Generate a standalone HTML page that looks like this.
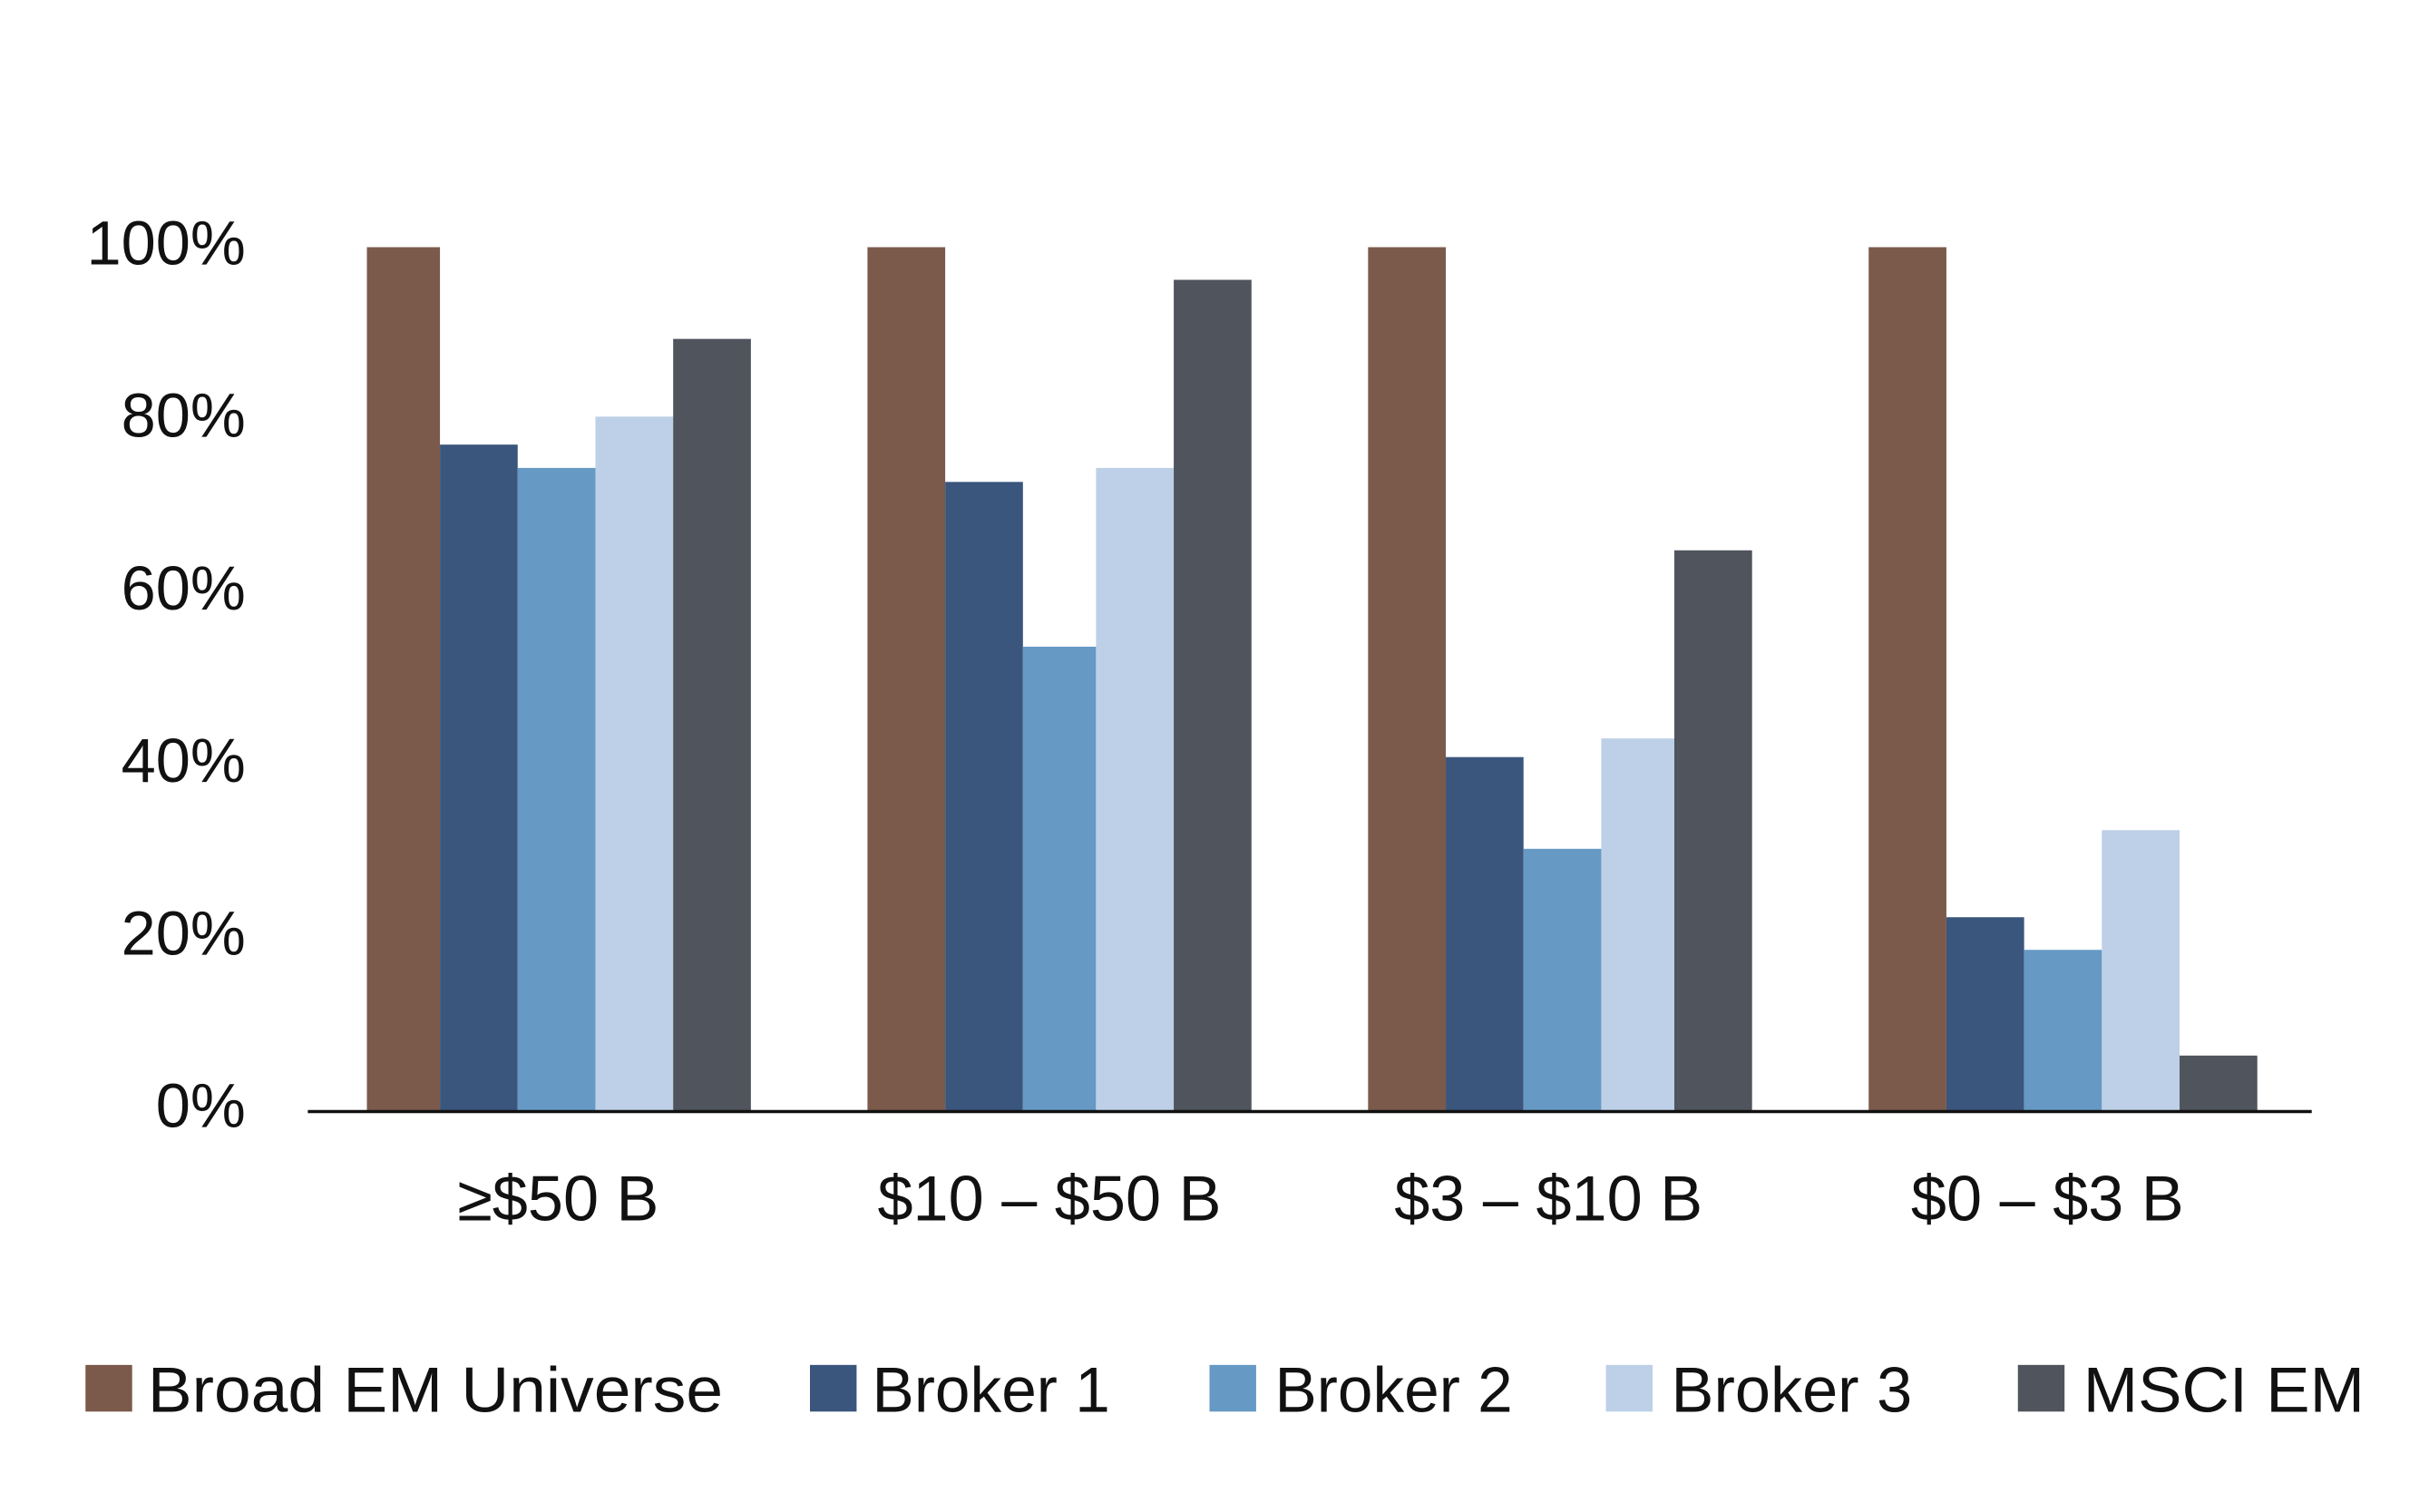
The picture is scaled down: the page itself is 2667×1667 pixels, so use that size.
<!DOCTYPE html>
<html><head><meta charset="utf-8"><style>
html,body{margin:0;padding:0;background:#fff;}
svg{display:block;}
text{font-family:"Liberation Sans",sans-serif;fill:#111;}
</style></head><body>
<svg width="2667" height="1667" viewBox="0 0 1556 972.6" preserveAspectRatio="none" xmlns="http://www.w3.org/2000/svg">
<g font-size="40" text-anchor="end">
<text x="158" y="170">100%</text>
<text x="158" y="281">80%</text>
<text x="158" y="392">60%</text>
<text x="158" y="503">40%</text>
<text x="158" y="614">20%</text>
<text x="158" y="725">0%</text>
</g>
<g>
<rect x="236" y="159" width="47" height="556" fill="#7B5A4C"/>
<rect x="283" y="286" width="50" height="429" fill="#3B567D"/>
<rect x="333" y="301" width="50" height="414" fill="#6699C4"/>
<rect x="383" y="268" width="50" height="447" fill="#BDD0E7"/>
<rect x="433" y="218" width="50" height="497" fill="#4F545D"/>

<rect x="558" y="159" width="50" height="556" fill="#7B5A4C"/>
<rect x="608" y="310" width="50" height="405" fill="#3B567D"/>
<rect x="658" y="416" width="47" height="299" fill="#6699C4"/>
<rect x="705" y="301" width="50" height="414" fill="#BDD0E7"/>
<rect x="755" y="180" width="50" height="535" fill="#4F545D"/>

<rect x="880" y="159" width="50" height="556" fill="#7B5A4C"/>
<rect x="930" y="487" width="50" height="228" fill="#3B567D"/>
<rect x="980" y="546" width="50" height="169" fill="#6699C4"/>
<rect x="1030" y="475" width="47" height="240" fill="#BDD0E7"/>
<rect x="1077" y="354" width="50" height="361" fill="#4F545D"/>

<rect x="1202" y="159" width="50" height="556" fill="#7B5A4C"/>
<rect x="1252" y="590" width="50" height="125" fill="#3B567D"/>
<rect x="1302" y="611" width="50" height="104" fill="#6699C4"/>
<rect x="1352" y="534" width="50" height="181" fill="#BDD0E7"/>
<rect x="1402" y="679" width="50" height="36" fill="#4F545D"/>
</g>
<line x1="198" y1="715" x2="1487" y2="715" stroke="#111" stroke-width="2"/>
<g font-size="41" text-anchor="middle">
<text x="359" y="785">≥$50 B</text>
<text x="675" y="785">$10 – $50 B</text>
<text x="996" y="785">$3 – $10 B</text>
<text x="1317" y="785">$0 – $3 B</text>
</g>
<g font-size="41">
<rect x="55" y="878" width="30" height="30" fill="#7B5A4C"/><text x="95" y="908" textLength="370" lengthAdjust="spacingAndGlyphs">Broad EM Universe</text>
<rect x="521" y="878" width="30" height="30" fill="#3B567D"/><text x="561" y="908" textLength="153" lengthAdjust="spacingAndGlyphs">Broker 1</text>
<rect x="778" y="878" width="30" height="30" fill="#6699C4"/><text x="820" y="908" textLength="153" lengthAdjust="spacingAndGlyphs">Broker 2</text>
<rect x="1033" y="878" width="30" height="30" fill="#BDD0E7"/><text x="1075" y="908" textLength="155" lengthAdjust="spacingAndGlyphs">Broker 3</text>
<rect x="1298" y="878" width="30" height="30" fill="#4F545D"/><text x="1340" y="908" textLength="181" lengthAdjust="spacingAndGlyphs">MSCI EM</text>
</g>
</svg>
</body></html>
